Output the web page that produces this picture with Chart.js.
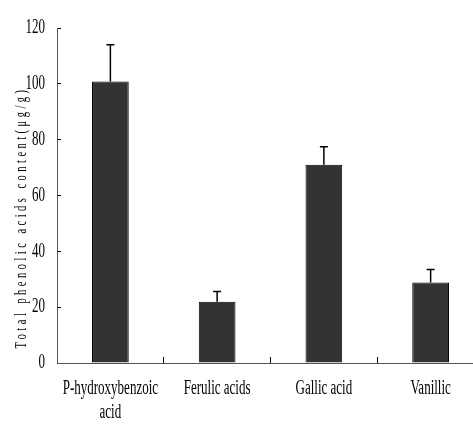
<!DOCTYPE html>
<html>
<head>
<meta charset="utf-8">
<script src="https://cdn.jsdelivr.net/npm/chart.js@4.4.0/dist/chart.umd.min.js"></script>
<style>
body { margin:0; background:#fff; overflow:hidden; }
#wrap { width:473px; height:428px; overflow:hidden; }
</style>
</head>
<body>
<div id="wrap"><canvas id="chart" width="484" height="428"></canvas></div>
<script>
// data
const categories = [["P-hydroxybenzoic", "acid"], "Ferulic acids", "Gallic acid", "Vanillic"]
const values = [100.8, 21.9, 71.0, 28.8]
const errors = [13.2, 3.7, 6.5, 4.7]
const y_max = 120
const y_step = 20
const y_title = "Total phenolic acids content(μg/g)"

const squeeze_x = 0.65
const serif = "'Liberation Serif', 'Times New Roman', serif"

// ----------------------------------------------------------------------
// the picture's text is narrow times, so squeeze every fillText a bit
const squeeze = {
	id: 'squeeze',
	beforeDraw (chart)
	{
		const ctx = chart.ctx
		if (!ctx._org_fill)
			{
			ctx._org_fill = ctx.fillText
			ctx.fillText = function (t, x, y)
				{
				this.save()
				this.translate(x, y)
				this.scale(squeeze_x, 1)
				this._org_fill(t, 0, 0)
				this.restore()
				}
			}
	}
}

// ----------------------------------------------------------------------
const error_bars = {
	id: 'error_bars',
	afterDatasetsDraw (chart)
	{
		const ctx = chart.ctx
		const ys = chart.scales.y
		const meta = chart.getDatasetMeta(0)
		ctx.save()
		ctx.strokeStyle = '#000'
		ctx.lineWidth = 1.5
		meta.data.forEach (function (bar, i)
			{
			const y0 = ys.getPixelForValue(values[i])
			const y1 = ys.getPixelForValue(values[i] + errors[i])
			ctx.beginPath()
			ctx.moveTo(bar.x, y0)
			ctx.lineTo(bar.x, y1)
			ctx.moveTo(bar.x - 4, y1)
			ctx.lineTo(bar.x + 4, y1)
			ctx.stroke()
			})
		ctx.restore()
	}
}

// ----------------------------------------------------------------------
const y_label = {
	id: 'y_label',
	afterDraw (chart)
	{
		const ctx = chart.ctx
		const ys = chart.scales.y
		ctx.save()
		ctx.translate(22, (ys.top + ys.bottom) / 2 + 22)
		ctx.rotate(-Math.PI / 2)
		ctx.scale(squeeze_x, 1)
		ctx.letterSpacing = '5.4px'
		ctx.font = '16px ' + serif
		ctx.fillStyle = '#000'
		ctx.textAlign = 'center'
		ctx.textBaseline = 'middle'
		ctx._org_fill(y_title, 0, 0)
		ctx.restore()
	}
}

// ----------------------------------------------------------------------
const tick_font = {family: serif, size: 20, lineHeight: 1.2}

const config = {
	type: 'bar',
	data: {
		labels: categories,
		datasets: [{
			data: values,
			backgroundColor: '#333333',
			borderColor: '#000',
			borderWidth: 1,
			barPercentage: 1,
			categoryPercentage: 0.344
			}]
		},
	options: {
		responsive: false,
		animation: false,
		layout: {padding: {top: 24, left: 0, right: 0, bottom: 0}},
		plugins: {legend: {display: false}, tooltip: {enabled: false}},
		scales: {
			x: {
				grid: {offset: true, drawOnChartArea: false, tickLength: -6, color: '#000'},
				border: {color: '#555', width: 1},
				ticks: {color: '#000', font: tick_font, maxRotation: 0, minRotation: 0, autoSkip: false, padding: 20},
				afterFit (s) { s.height = 65 }
				},
			y: {
				min: 0,
				max: y_max,
				ticks: {stepSize: y_step, color: '#000', font: tick_font, padding: 16},
				grid: {drawOnChartArea: false, tickLength: -4, color: '#000'},
				border: {color: '#555', width: 1},
				afterFit (s) { s.width = 57 }
				}
			}
		},
	plugins: [squeeze, error_bars, y_label]
	}

const chart = new Chart(document.getElementById('chart'), config)
</script>
</body>
</html>
